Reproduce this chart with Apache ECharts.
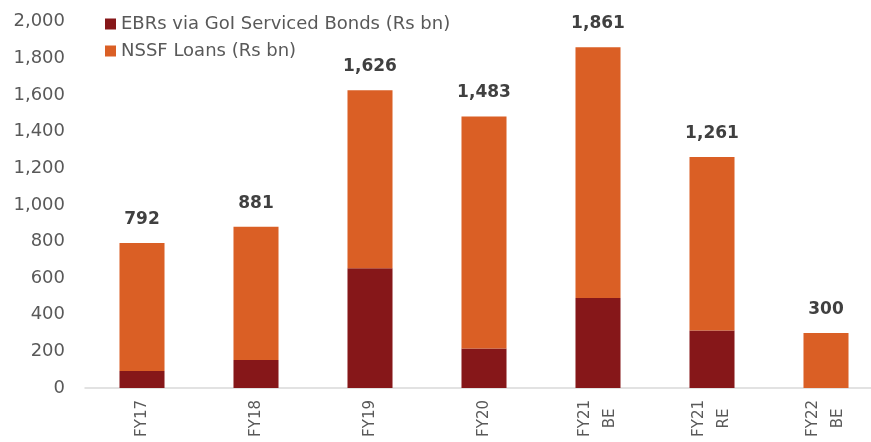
<!DOCTYPE html>
<html>
<head>
<meta charset="utf-8">
<script src="https://cdn.jsdelivr.net/npm/echarts@6/dist/echarts.min.js"></script>
<style>html,body{margin:0;padding:0;background:#fff;overflow:hidden;width:871px;height:442px;}#c{width:883px;height:442px;}</style>
</head>
<body>
<div id="c"></div>
<script>
const categories = ['FY17', 'FY18', 'FY19', 'FY20', 'FY21\nBE', 'FY21\nRE', 'FY22\nBE'];
const ebrValues = [93, 153, 654, 216, 492, 314, 0];
const totalValues = [792, 881, 1626, 1483, 1861, 1261, 300];
const nssfValues = totalValues.map((t, i) => t - ebrValues[i]);
const seriesNames = ['EBRs via GoI Serviced Bonds (Rs bn)', 'NSSF Loans (Rs bn)'];

const FONT = 'DejaVu Sans';
const chart = echarts.init(document.getElementById('c'), null, {renderer: 'canvas'});
chart.setOption({
  animation: false,
  textStyle: {fontFamily: FONT},
  grid: {left: 85, right: 0, top: 21.7, bottom: 54, containLabel: false},
  legend: {
    orient: 'vertical', left: 100, top: 10, itemWidth: 11, itemHeight: 11, itemGap: 9,
    icon: 'rect',
    textStyle: {fontFamily: FONT, fontSize: 18, color: '#595959'},
    data: seriesNames
  },
  xAxis: {
    type: 'category', data: categories,
    axisLine: {lineStyle: {color: '#D9D9D9', width: 1.5}},
    axisTick: {show: false},
    axisLabel: {rotate: 90, margin: 12, color: '#595959', fontSize: 15, fontFamily: FONT,
      formatter: v => v.split('\n').map(s => '{a|' + s + '}').join('\n'),
      rich: {a: {align: 'center', lineHeight: 25, fontSize: 15, color: '#595959', fontFamily: FONT}}}
  },
  yAxis: {
    type: 'value', min: 0, max: 2000, interval: 200,
    axisLine: {show: false}, axisTick: {show: false}, splitLine: {show: false},
    axisLabel: {color: '#595959', fontSize: 18, fontFamily: FONT, margin: 20,
      formatter: v => v.toLocaleString('en-US')}
  },
  series: [
    {name: seriesNames[0], type: 'bar', stack: 'a', data: ebrValues, barWidth: '39.5%',
      itemStyle: {color: '#861719'}},
    {name: seriesNames[1], type: 'bar', stack: 'a', data: nssfValues, barWidth: '39.5%',
      itemStyle: {color: '#DA5F25'},
      label: {show: true, position: 'top', distance: 15, color: '#404040', fontWeight: 'bold',
        fontSize: 17, fontFamily: FONT,
        formatter: p => totalValues[p.dataIndex].toLocaleString('en-US')}}
  ]
});
</script>
</body>
</html>
